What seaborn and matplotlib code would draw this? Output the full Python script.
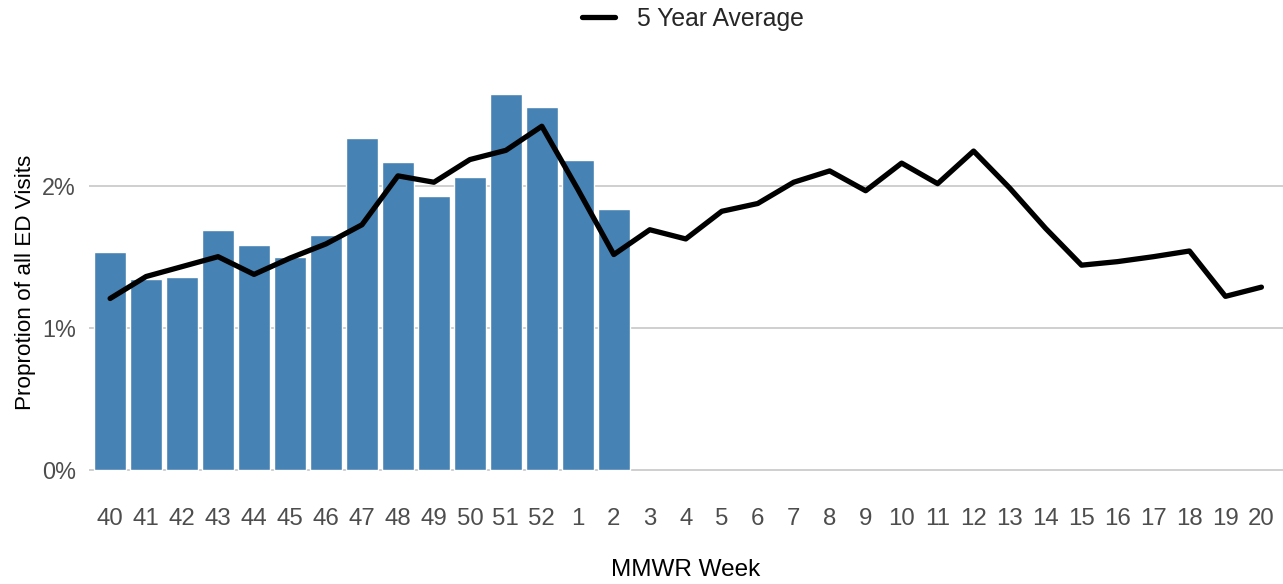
import numpy as np
import pandas as pd
import matplotlib
matplotlib.use("Agg")
import matplotlib.pyplot as plt
import seaborn as sns

# === Data (percent of all ED visits) ===
weeks = ["40", "41", "42", "43", "44", "45", "46", "47", "48", "49", "50", "51", "52",
         "1", "2", "3", "4", "5", "6", "7", "8", "9", "10", "11", "12", "13", "14",
         "15", "16", "17", "18", "19", "20"]
current_season = [1.54, 1.35, 1.36, 1.69, 1.59, 1.50, 1.66, 2.34, 2.17, 1.93, 2.07,
                  2.65, 2.56, 2.19, 1.84]
five_year_avg = [1.21, 1.365, 1.435, 1.505, 1.38, 1.495, 1.595, 1.73, 2.075, 2.03, 2.19,
                 2.255, 2.425, 1.98, 1.52, 1.695, 1.63, 1.825, 1.88, 2.03, 2.11, 1.97,
                 2.165, 2.02, 2.25, 1.99, 1.705, 1.445, 1.47, 1.505, 1.545, 1.225, 1.29]

df_line = pd.DataFrame({"pos": np.arange(len(weeks)), "week": weeks, "avg": five_year_avg})
df_bar = pd.DataFrame({"pos": np.arange(len(current_season)), "value": current_season})

sns.set_theme(style="white")
plt.rcParams["font.family"] = ["Liberation Sans", "DejaVu Sans"]

fig = plt.figure(figsize=(12.83, 5.84), dpi=100)
ax = fig.add_axes([0.069, 0.163, 0.931, 0.707])

sns.barplot(data=df_bar, x="pos", y="value", color="#4682B4", saturation=1,
            width=0.89, ax=ax, label="_nolegend_")
sns.lineplot(data=df_line, x="pos", y="avg", color="black", linewidth=3.8,
             ax=ax, label="5 Year Average")

# === Axes styling ===
ax.set_xlim(-0.6, 32.6)
ax.set_ylim(-0.1325, 2.78)
ax.set_yticks([0, 1, 2])
ax.set_yticklabels([f"{v}%" for v in [0, 1, 2]])
ax.set_xticks(df_line["pos"])
ax.set_xticklabels(weeks)
ax.yaxis.grid(True, color="#cccccc", linewidth=1.3)
ax.xaxis.grid(False)
ax.set_axisbelow(True)
for s in ax.spines.values():
    s.set_visible(False)
ax.tick_params(axis="both", length=0, labelcolor="#4d4d4d")
ax.tick_params(axis="x", pad=14, labelsize=17.3)
ax.tick_params(axis="y", pad=9, labelsize=16.8)

ax.set_xlabel("MMWR Week", fontsize=17.5, color="black", labelpad=21)
ax.set_ylabel("Proprotion of all ED Visits", fontsize=16.2, color="black", labelpad=4)

ax.legend(loc="center", bbox_to_anchor=(0.506, 1.138), frameon=False, fontsize=17.8,
          handlelength=1.35, handletextpad=0.9)

fig.savefig("out.png", dpi=100)
